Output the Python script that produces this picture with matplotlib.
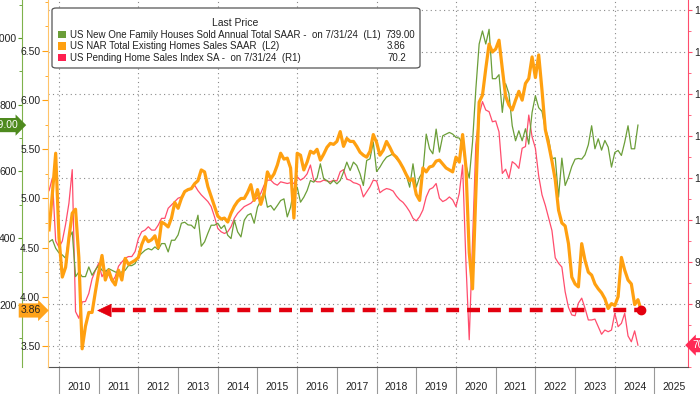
import matplotlib
matplotlib.use("Agg")
import matplotlib.pyplot as plt
import matplotlib.ticker as mticker
from matplotlib.patches import FancyBboxPatch, Rectangle
import pandas as pd

plt.rcParams['font.family'] = ['Liberation Sans', 'DejaVu Sans']

# monthly values, first point Sep 2009
new_home_sales = [
    389, 396, 370, 356,
    350, 340, 400, 419, 285, 299, 285, 285, 314, 289, 305, 319,
    304, 300, 309, 304, 299, 296, 299, 304, 318, 318, 324, 345,
    355, 364, 369, 365, 374, 366, 384, 384, 359, 394, 394, 410,
    445, 448, 440, 439, 429, 469, 376, 389, 415, 439, 439, 445,
    429, 439, 409, 399, 454, 419, 404, 454, 469, 474, 445, 493,
    513, 543, 493, 498, 484, 498, 513, 518, 464, 493, 548, 553,
    508, 523, 543, 573, 568, 580, 623, 578, 573, 563, 573, 563,
    573, 598, 628, 603, 628, 618, 593, 558, 633, 638, 688, 600,
    613, 630, 643, 648, 653, 638, 628, 613, 588, 553, 623, 553,
    583, 598, 712, 668, 653, 727, 658, 707, 712, 717, 712, 702,
    700, 680, 620, 580, 688, 847, 982, 1021, 982, 1026, 878, 878,
    890, 777, 863, 833, 737, 692, 722, 692, 728, 682, 777, 827,
    791, 780, 728, 698, 638, 641, 523, 640, 558, 583, 615, 637,
    639, 637, 650, 680, 737, 668, 698, 664, 693, 673, 613, 657,
    663, 648, 688, 737, 668, 668, 739,
]

existing_sales = [
    4.68, 5.05, 5.46, 4.60,
    4.20, 4.30, 4.60, 4.85, 4.89, 4.40, 3.47, 3.70, 3.84, 3.84, 4.05, 4.25,
    4.42, 4.17, 4.27, 4.17, 4.12, 4.27, 4.17, 4.39, 4.33, 4.35, 4.37, 4.40,
    4.53, 4.61, 4.56, 4.58, 4.62, 4.50, 4.76, 4.74, 4.71, 4.80, 4.96, 4.90,
    5.00, 5.07, 5.09, 5.10, 5.15, 5.18, 5.29, 5.27, 5.12, 5.02, 4.92, 4.82,
    4.79, 4.80, 4.76, 4.85, 4.92, 4.97, 5.00, 5.00, 5.06, 5.14, 4.98, 5.09,
    4.94, 5.05, 5.27, 5.20, 5.25, 5.34, 5.46, 5.40, 5.41, 5.31, 4.80, 5.46,
    5.44, 5.29, 5.37, 5.48, 5.46, 5.50, 5.39, 5.45, 5.52, 5.56, 5.55, 5.58,
    5.68, 5.53, 5.61, 5.58, 5.58, 5.53, 5.47, 5.44, 5.42, 5.48, 5.65, 5.57,
    5.44, 5.49, 5.58, 5.52, 5.45, 5.42, 5.37, 5.31, 5.24, 5.18, 5.20, 5.04,
    4.98, 5.31, 5.27, 5.32, 5.33, 5.38, 5.39, 5.35, 5.31, 5.29, 5.27, 5.42,
    5.37, 5.65, 5.32, 4.45, 4.08, 5.05, 5.98, 6.05, 6.32, 6.57, 6.49, 6.52,
    6.61, 6.32, 6.04, 5.95, 5.90, 6.00, 6.09, 6.00, 6.17, 6.22, 6.44, 6.23,
    6.46, 6.10, 5.70, 5.55, 5.38, 5.19, 4.88, 4.75, 4.72, 4.54, 4.20, 4.13,
    4.10, 4.54, 4.37, 4.25, 4.22, 4.13, 4.08, 4.04, 3.98, 3.88, 3.93, 3.91,
    4.00, 4.40, 4.27, 4.17, 4.13, 3.92, 3.97, 3.86,
]

pending_index = [
    107.0, 110.0, 95.0, 93.5,
    95.0, 99.0, 104.0, 112.0, 78.2, 76.6, 80.5, 80.6, 82.5, 86.0, 88.0, 89.7,
    86.5, 88.0, 87.0, 85.3, 86.5, 89.0, 90.0, 90.9, 91.3, 91.3, 92.5, 95.6,
    97.2, 97.6, 98.4, 97.6, 97.6, 98.8, 100.4, 100.4, 102.8, 103.6, 104.4, 105.2,
    105.5, 106.7, 107.1, 107.5, 108.3, 107.0, 106.0, 105.2, 104.4, 103.2, 100.8, 98.0,
    97.2, 96.8, 97.2, 98.4, 100.4, 101.6, 102.4, 103.2, 103.6, 104.0, 104.8, 105.2,
    106.4, 108.3, 109.5, 109.5, 108.7, 108.3, 109.1, 108.9, 108.7, 108.9, 108.7, 110.3,
    109.5, 110.0, 111.0, 113.1, 109.5, 109.1, 109.1, 109.5, 109.3, 109.1, 109.5, 109.3,
    111.5, 112.0, 109.7, 109.5, 108.9, 108.7, 108.3, 105.5, 106.7, 107.9, 109.5, 109.3,
    106.5, 107.1, 107.5, 107.3, 106.9, 105.7, 104.8, 104.2, 103.2, 102.0, 100.4, 99.8,
    100.8, 102.4, 105.5, 107.3, 107.7, 108.7, 105.2, 104.4, 104.8, 105.5, 104.8, 103.2,
    106.4, 113.1, 90.0, 71.5, 95.0, 118.0, 125.0, 128.2, 126.2, 125.8, 123.4, 123.6,
    121.0, 111.1, 112.1, 109.9, 113.9, 113.3, 112.3, 117.1, 117.5, 125.0, 119.8, 117.1,
    110.5, 106.0, 103.5, 100.5, 97.5, 91.0, 89.7, 88.8, 82.9, 79.2, 77.4, 77.2,
    80.2, 81.4, 79.0, 76.2, 76.2, 76.4, 74.6, 72.8, 73.8, 73.4, 73.8, 77.8,
    74.6, 75.4, 77.8, 72.4, 71.0, 73.6, 70.2,
]

years = list(range(2010, 2026))
legend_labels = [
    'US New One Family Houses Sold Annual Total SAAR -  on 7/31/24  (L1)',
    'US NAR Total Existing Homes Sales SAAR  (L2)',
    'US Pending Home Sales Index SA -  on 7/31/24  (R1)',
]
arrow_tip_year = 2010.96   # where the red arrow points (2010 low)

GREEN = '#6b9e38'
ORANGE = '#ffa010'
PINK = '#ff4d6d'
ARROW = '#e3000f'
W, H = 700, 394


def month_years(n):
    d = pd.date_range('2009-09-30', periods=n, freq='ME')
    return d.year + d.month / 12.0


t_g = month_years(len(new_home_sales))
t_o = month_years(len(existing_sales))
t_r = month_years(len(pending_index))

fig = plt.figure(figsize=(W / 100, H / 100), dpi=100)
ax = fig.add_axes([48 / W, 27 / H, 640 / W, 367 / H])
ax_g = ax.twinx()
ax_o = ax.twinx()

# red index on the right axis
ax.plot(t_r, pending_index, color=PINK, lw=0.9)
ax.set_ylim(65.0, 152.4)
ax.set_xlim(2009.723, 2025.844)

ax_g.plot(t_g, new_home_sales, color=GREEN, lw=0.9)
ax_g.set_ylim(14.2, 1113.8)

ax_o.plot(t_o, existing_sales, color=ORANGE, lw=2.3, solid_joinstyle='round')
ax_o.set_ylim(3.285, 7.019)

# axis positions (twinx resets the host to the left)
ax.yaxis.tick_right()
ax_g.yaxis.tick_left()
ax_o.yaxis.tick_left()

for a in (ax, ax_g, ax_o):
    a.spines['top'].set_visible(False)
ax.spines['left'].set_visible(False)
ax.spines['right'].set_color(PINK)
ax.spines['bottom'].set_color('#555555')
for a in (ax_g, ax_o):
    a.spines['right'].set_visible(False)
    a.spines['bottom'].set_visible(False)
ax_g.spines['left'].set_position(('outward', 26 * 0.72))
ax_g.spines['left'].set_color('#7fb24b')
ax_o.spines['left'].set_color('#ffc46a')

ax.set_yticks(range(70, 151, 10))
ax.yaxis.set_minor_locator(mticker.MultipleLocator(5))
ax.tick_params(axis='y', which='both', colors=PINK, labelcolor='#222222',
               labelsize=7.5, length=3, pad=1.5)
ax.tick_params(axis='y', which='minor', length=2)

ax_g.set_yticks(range(200, 1001, 200))
ax_g.yaxis.set_minor_locator(mticker.MultipleLocator(100))
ax_g.tick_params(axis='y', which='both', colors='#5a9a2a', labelcolor='#222222',
                 labelsize=7.5, length=3, pad=1)
ax_g.tick_params(axis='y', which='minor', length=2)

ax_o.set_yticks([3.5, 4.0, 4.5, 5.0, 5.5, 6.0, 6.5])
ax_o.yaxis.set_major_formatter(mticker.FormatStrFormatter('%.2f'))
ax_o.yaxis.set_minor_locator(mticker.MultipleLocator(0.25))
ax_o.tick_params(axis='y', which='both', colors=ORANGE, labelcolor='#222222',
                 labelsize=7.5, length=4, pad=1.5)
ax_o.tick_params(axis='y', which='minor', length=2)

# years: long separators at year starts, labels in the middle
ax.set_xticks(years)
ax.xaxis.set_major_formatter(mticker.NullFormatter())
ax.set_xticks([y + 0.5 for y in years], minor=True)
ax.set_xticklabels([str(y) for y in years], minor=True)
ax.tick_params(axis='x', which='major', length=20, color='#999999', width=0.8)
ax.tick_params(axis='x', which='minor', length=0, pad=11, labelsize=7.5,
               labelcolor='#222222')

# dotted grid
ax.yaxis.grid(True, which='major', ls=(0, (1, 3)), color='#8a8a8a', lw=0.8)
for y in years:
    if y % 2 == 0:
        ax.axvline(y, ls=(0, (1, 3)), color='#8a8a8a', lw=0.8, zorder=0.5)

# last value tags
ax_g.annotate(f'{new_home_sales[-1]:.2f}', xy=(0, new_home_sales[-1]),
              xycoords=('axes fraction', 'data'), xytext=(-26 * 0.72 - 2.5, 0),
              textcoords='offset points', ha='right', va='center', fontsize=7.5,
              color='white', annotation_clip=False,
              bbox=dict(boxstyle='rarrow,pad=0.2', fc='#4e8a1e', ec='none'))
ax_o.annotate(f'{existing_sales[-1]:.2f}', xy=(0, existing_sales[-1]),
              xycoords=('axes fraction', 'data'), xytext=(-5, 0),
              textcoords='offset points', ha='right', va='center', fontsize=7.5,
              color='#222222', annotation_clip=False, zorder=6,
              bbox=dict(boxstyle='rarrow,pad=0.2', fc='#ffa31a', ec='none'))
ax.annotate(f'{pending_index[-1]:.1f}', xy=(1, pending_index[-1]),
            xycoords=('axes fraction', 'data'), xytext=(3.5, 0),
            textcoords='offset points', ha='left', va='center', fontsize=7.5,
            color='white', annotation_clip=False,
            bbox=dict(boxstyle='larrow,pad=0.2', fc='#ff2a55', ec='none'))

# red dashed arrow at the latest existing-sales level
last = existing_sales[-1]
head_base = arrow_tip_year + 13 / 39.7
ax_o.plot([head_base + 0.05, t_o[-1]], [last, last], color=ARROW, lw=3.2,
          ls=(0, (2.9, 1.8)), solid_capstyle='butt', zorder=5)
ax_o.plot([t_o[-1]], [last], 'o', color=ARROW, ms=6, zorder=6)
ax_o.annotate('', xy=(arrow_tip_year, last), xytext=(head_base, last),
              arrowprops=dict(arrowstyle='-|>,head_length=0.95,head_width=0.45',
                              color=ARROW, lw=0.5, shrinkA=0, shrinkB=0,
                              mutation_scale=10), zorder=6)

# legend box
box = FancyBboxPatch((52 / W, 1 - 68 / H), 368 / W, 60 / H,
                     boxstyle='round,pad=0,rounding_size=0.006',
                     transform=fig.transFigure, fc='white', ec='#555555',
                     lw=0.9, zorder=10)
fig.add_artist(box)
fig.text(235 / W, 1 - 23.5 / H, 'Last Price', ha='center', va='center',
         fontsize=7.5, color='#222222', zorder=11)
legend_colors = [GREEN, ORANGE, '#ff2050']
legend_values = [f'{new_home_sales[-1]:.2f}', f'{existing_sales[-1]:.2f}',
                 f'{pending_index[-1]:.1f}']
value_right = [415, 406, 406]
for i, (lab, col, val) in enumerate(zip(legend_labels, legend_colors, legend_values)):
    yc = 34.5 + i * 11.6
    fig.add_artist(Rectangle((58 / W, 1 - (yc + 3.6) / H), 8 / W, 7.2 / H,
                             transform=fig.transFigure, fc=col, ec='none', zorder=11))
    fig.text(70 / W, 1 - yc / H, lab, ha='left', va='center', fontsize=7.0,
             color='#222222', zorder=11)
    fig.text(value_right[i] / W, 1 - yc / H, val, ha='right', va='center',
             fontsize=7.0, color='#222222', zorder=11)

fig.savefig('out.png', dpi=100, facecolor='white')
